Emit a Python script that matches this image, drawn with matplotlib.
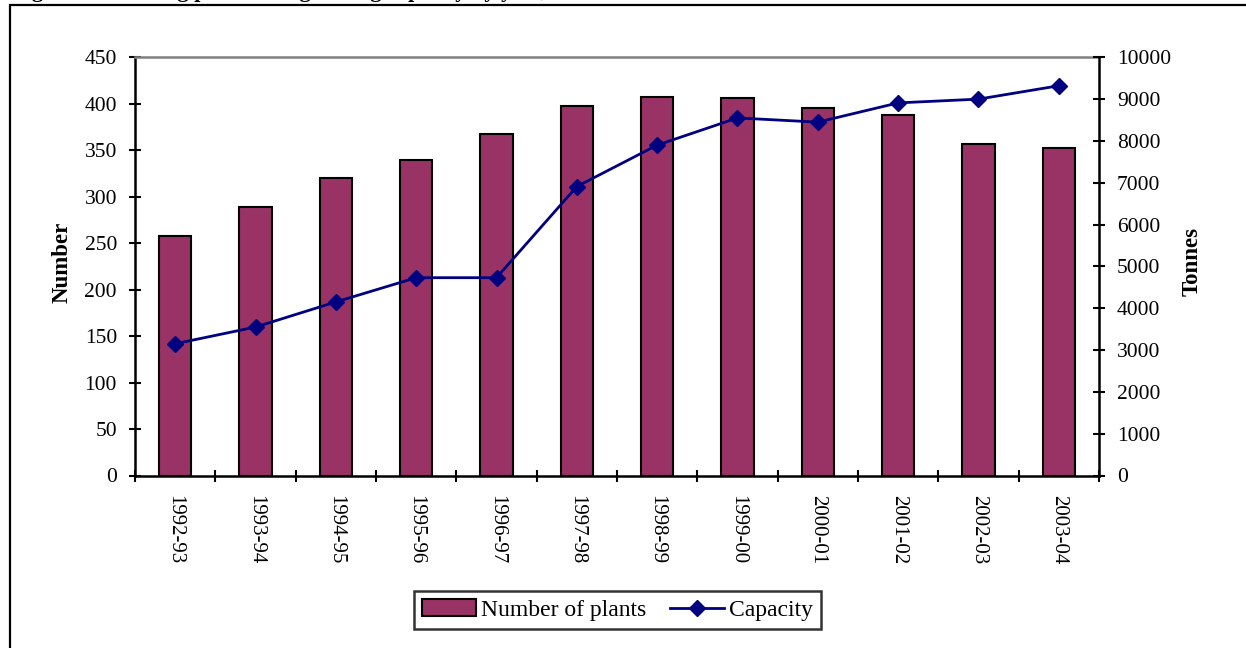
import numpy as np
import matplotlib
matplotlib.use("Agg")
import matplotlib.pyplot as plt
from matplotlib.patches import Rectangle

plt.rcParams['font.family'] = ['Liberation Serif', 'DejaVu Serif']

# Datos
years = ["1992-93", "1993-94", "1994-95", "1995-96", "1996-97", "1997-98",
         "1998-99", "1999-00", "2000-01", "2001-02", "2002-03", "2003-04"]
plants = [258, 289, 320, 340, 367, 398, 407, 406, 395, 388, 357, 352]
capacity = [3150, 3550, 4150, 4730, 4730, 6910, 7900, 8550, 8450, 8910, 9000, 9320]

W, H = 1246, 648
fig = plt.figure(figsize=(W / 100, H / 100), dpi=100)

# marco exterior (solo se ven arriba e izquierda)
fig.patches.append(Rectangle((10 / W, -0.05), 1.2, 1 - 5 / H + 0.05,
                             transform=fig.transFigure, fill=False,
                             edgecolor='black', linewidth=1.6))

# titulo recortado por el borde superior
fig.text(12 / W, 1 + 2.5 / H, "Figure 4: Working plants and grinding capacity by year, 1992-93 to 2003-04",
         fontsize=16, fontweight='bold', va='baseline', ha='left')

ax = fig.add_axes([135 / W, (H - 475.5) / H, 964 / W, 418.2 / H])
x = np.arange(len(years))

bars = ax.bar(x, plants, width=0.40, color='#993366', edgecolor='black',
              linewidth=1.5, label='Number of plants', zorder=2)
ax.set_xlim(-0.5, len(years) - 0.5)
ax.set_ylim(0, 450)
ax.set_yticks(np.arange(0, 451, 50))

ax.set_xticks(x)
ax.set_xticklabels(years, rotation=270, fontsize=15)
ax.tick_params(axis='x', which='major', length=0, pad=14)
ax.set_xticks(np.arange(-0.5, len(years), 1), minor=True)
ax.tick_params(axis='x', which='minor', length=8, width=1.5, direction='inout')
ax.tick_params(axis='y', length=8, width=1.5, direction='inout', labelsize=15.5, pad=9)

for s in ['left', 'bottom']:
    ax.spines[s].set_linewidth(1.8)
ax.spines['top'].set_color('#808080')
ax.spines['top'].set_linewidth(1.8)
ax.spines['right'].set_visible(False)

ax2 = ax.twinx()
line, = ax2.plot(x, capacity, color='#000080', linewidth=2, marker='D',
                 markersize=8.5, label='Capacity', zorder=3)
ax2.set_ylim(0, 10000)
ax2.set_yticks(np.arange(0, 10001, 1000))
ax2.tick_params(axis='y', length=8, width=1.5, direction='inout', labelsize=15.5, pad=9)
ax2.spines['right'].set_linewidth(1.8)
ax2.spines['top'].set_visible(False)
ax2.spines['left'].set_visible(False)
ax2.spines['bottom'].set_visible(False)

fig.text(62 / W, 1 - 262 / H, "Number", rotation=90, fontsize=16.5, fontweight='bold',
         ha='center', va='center')
fig.text(1192 / W, 1 - 262 / H, "Tonnes", rotation=90, fontsize=16.5, fontweight='bold',
         ha='center', va='center')

leg = fig.legend(handles=[bars, line], loc='center',
                 bbox_to_anchor=(617.5 / W, 1 - 610 / H), ncol=2, fontsize=17,
                 frameon=True, fancybox=False, edgecolor='black',
                 handlelength=2.3, handletextpad=0.2, columnspacing=1.0,
                 borderpad=0.35)
leg.get_frame().set_linewidth(1.8)

plt.savefig('out.png', dpi=100)
